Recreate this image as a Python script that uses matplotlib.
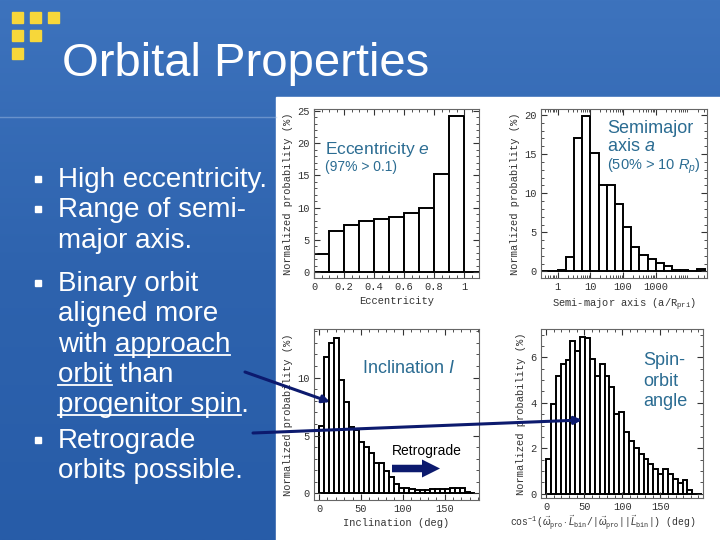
import matplotlib.pyplot as plt
import numpy as np
from matplotlib.colors import LinearSegmentedColormap
from matplotlib.patches import FancyArrow, Rectangle
from matplotlib.ticker import FixedLocator, FuncFormatter, LogLocator, MultipleLocator, NullFormatter

plt.rcParams["font.family"] = ["Liberation Mono", "DejaVu Sans Mono"]
plt.rcParams["mathtext.fontset"] = "custom"
plt.rcParams["mathtext.rm"] = "Liberation Mono"
plt.rcParams["mathtext.it"] = "Liberation Sans:italic"

# eccentricity histogram (bin edges, % per bin)
ecc_edges = [0.0, 0.1, 0.2, 0.3, 0.4, 0.5, 0.6, 0.7, 0.8, 0.9, 1.0, 1.1]
ecc_prob = [2.8, 6.4, 7.3, 8.0, 8.3, 8.6, 9.2, 10.0, 15.2, 24.2, 0.0]

# semimajor axis histogram, edges in log10(a / R_pri)
sma_log_edges = np.arange(-0.5, 4.51, 0.25)
sma_prob = [0.0, 0.0, 0.15, 1.8, 17.0, 19.9, 15.1, 11.1, 11.1, 8.6,
            5.7, 3.1, 2.1, 1.6, 1.1, 0.7, 0.2, 0.2, 0.1, 0.25]

# inclination histogram (deg)
inc_edges = np.arange(0, 187, 6)
inc_prob = [5.8, 11.8, 13.0, 13.45, 9.8, 7.9, 5.7, 5.5, 4.45, 4.0,
            3.5, 2.6, 2.6, 1.9, 1.45, 0.8, 0.5, 0.45, 0.35, 0.3,
            0.3, 0.3, 0.35, 0.4, 0.4, 0.4, 0.45, 0.45, 0.45, 0.14, 0.0]

# spin-orbit angle histogram (deg)
spin_edges = np.arange(33) * 6.4
spin_prob = [1.51, 3.97, 5.17, 5.73, 5.88, 6.73, 6.28, 6.88, 6.84, 5.91,
             5.17, 5.69, 5.17, 4.7, 3.5, 3.6, 2.72, 2.32, 2.01, 1.76,
             1.54, 1.31, 1.07, 0.85, 1.1, 0.88, 0.66, 0.47, 0.59, 0.18,
             0.0, 0.0]

bullets = [
    ("High eccentricity.", 187, True),
    ("Range of semi-", 217, True),
    ("major axis.", 248, False),
    ("Binary orbit", 291, True),
    ("aligned more", 321, False),
    ("with approach", 352, False),
    ("orbit than", 382, False),
    ("progenitor spin.", 412, False),
    ("Retrograde", 448, True),
    ("orbits possible.", 478, False),
]
underlined = [("with approach", "approach"), ("orbit than", "orbit"),
              ("progenitor spin.", "progenitor spin")]

navy = "#0c1a6e"
label_c = "#2b6c92"
sans = "Liberation Sans"


def rect(l, t, r, b):
    return [l / 720, 1 - b / 540, (r - l) / 720, (b - t) / 540]


def style(ax):
    ax.tick_params(which="both", direction="in", top=True, right=True,
                   labelsize=7.5, colors="#333333", pad=3)
    ax.tick_params(which="major", length=4)
    ax.tick_params(which="minor", length=2)
    for s in ax.spines.values():
        s.set_color("#666666")
        s.set_linewidth(0.8)
    ax.set_ylabel("Normalized probability (%)", fontsize=7.5, color="#333333", labelpad=3)


fmt = FuncFormatter(lambda v, p: "%g" % v)

fig = plt.figure(figsize=(7.2, 5.4), dpi=100)

# slide background
bg = fig.add_axes([0, 0, 1, 1], zorder=0)
bg.set_xlim(0, 720)
bg.set_ylim(540, 0)
bg.axis("off")
cmap = LinearSegmentedColormap.from_list("slide", ["#3d73bd", "#2e63ae", "#275ca8"])
bg.imshow(np.linspace(0, 1, 256)[:, None], extent=(0, 720, 540, 0), aspect="auto", cmap=cmap)
bg.add_patch(Rectangle((276, 97), 444, 443, color="white"))
bg.plot([0, 276], [117, 117], color="#a8c2e6", lw=1, alpha=0.45)
for x, y in [(12, 12), (30, 12), (48, 12), (12, 30), (30, 30), (12, 48)]:
    bg.add_patch(Rectangle((x, y), 11, 11, color="#f7d73a"))
bg.text(62, 76, "Orbital Properties", family=sans, fontsize=34, color="white", va="baseline")

for line, base, mark in bullets:
    bg.text(58, base, line, family=sans, fontsize=20, color="white", va="baseline")
    if mark:
        bg.plot(37.5, base - 8, marker="s", ms=4, color="white", mec="white")

fig.canvas.draw()
rend = fig.canvas.get_renderer()


def width(s):
    t = bg.text(0, 100, s, family=sans, fontsize=20)
    w = t.get_window_extent(rend).width
    t.remove()
    return w


for line, word in underlined:
    base = [b for l, b, m in bullets if l == line][0]
    prefix = line[: line.index(word)]
    x0 = 58 + width(prefix + word) - width(word)
    bg.plot([x0, x0 + width(word)], [base + 3, base + 3], color="white", lw=1.3)

# histogram panels
ax1 = fig.add_axes(rect(314, 109, 479, 278), zorder=2)
ax1.bar(ecc_edges[:-1], ecc_prob, width=np.diff(ecc_edges), align="edge",
        color="white", edgecolor="black", linewidth=1.4)
ax1.set_xlim(0, 1.1)
ax1.set_ylim(-0.9, 25.3)
ax1.xaxis.set_major_locator(MultipleLocator(0.2))
ax1.xaxis.set_minor_locator(MultipleLocator(0.05))
ax1.yaxis.set_major_locator(MultipleLocator(5))
ax1.yaxis.set_minor_locator(MultipleLocator(1))
ax1.xaxis.set_major_formatter(fmt)
ax1.set_xlabel("Eccentricity", fontsize=7.5, color="#333333", labelpad=3)
style(ax1)

ax2 = fig.add_axes(rect(541, 109, 707, 278), zorder=2)
lo = 10 ** sma_log_edges[:-1]
hi = 10 ** sma_log_edges[1:]
ax2.bar(lo, sma_prob, width=hi - lo, align="edge",
        color="white", edgecolor="black", linewidth=1.4)
ax2.set_xscale("log")
ax2.set_xlim(10 ** -0.51, 10 ** 4.57)
ax2.set_ylim(-0.84, 20.77)
ax2.xaxis.set_major_locator(FixedLocator([1, 10, 100, 1000]))
ax2.xaxis.set_minor_locator(LogLocator(subs=np.arange(2, 10)))
ax2.xaxis.set_minor_formatter(NullFormatter())
ax2.xaxis.set_major_formatter(fmt)
ax2.yaxis.set_major_locator(MultipleLocator(5))
ax2.yaxis.set_minor_locator(MultipleLocator(1))
ax2.set_xlabel(r"Semi-major axis (a/R$_{\rm pri}$)", fontsize=7.5, color="#333333", labelpad=3)
style(ax2)

ax3 = fig.add_axes(rect(314, 329, 479, 500), zorder=2)
ax3.bar(inc_edges[:-1], inc_prob, width=np.diff(inc_edges), align="edge",
        color="white", edgecolor="black", linewidth=1.4)
ax3.set_xlim(-6, 191)
ax3.set_ylim(-0.57, 14.2)
ax3.xaxis.set_major_locator(MultipleLocator(50))
ax3.xaxis.set_minor_locator(MultipleLocator(10))
ax3.yaxis.set_major_locator(MultipleLocator(5))
ax3.yaxis.set_minor_locator(MultipleLocator(1))
ax3.set_xlabel("Inclination (deg)", fontsize=7.5, color="#333333", labelpad=3)
style(ax3)

ax4 = fig.add_axes(rect(541, 329, 703, 498), zorder=2)
ax4.bar(spin_edges[:-1], spin_prob, width=np.diff(spin_edges), align="edge",
        color="white", edgecolor="black", linewidth=1.4)
ax4.set_xlim(-6.6, 206)
ax4.set_ylim(-0.19, 7.25)
ax4.xaxis.set_major_locator(FixedLocator([0, 50, 100, 150]))
ax4.xaxis.set_minor_locator(MultipleLocator(10))
ax4.yaxis.set_major_locator(MultipleLocator(2))
ax4.yaxis.set_minor_locator(MultipleLocator(0.5))
ax4.set_xlabel(r"cos$^{-1}$($\vec{\omega}_{\rm pro}\cdot\vec{L}_{\rm bin}$/|$\vec{\omega}_{\rm pro}$||$\vec{L}_{\rm bin}$|) (deg)",
               fontsize=7, color="#333333", labelpad=2)
ax4.xaxis.set_label_coords(0.38, -0.095)
style(ax4)

# overlay: panel captions and arrows
ov = fig.add_axes([0, 0, 1, 1], zorder=5)
ov.set_xlim(0, 720)
ov.set_ylim(540, 0)
ov.set_facecolor("none")
ov.axis("off")

ov.text(325, 154, r"Eccentricity $e$", family=sans, fontsize=12.5, color=label_c, va="baseline")
ov.text(325, 171, "(97% > 0.1)", family=sans, fontsize=10, color=label_c, va="baseline")
ov.text(607, 133, "Semimajor", family=sans, fontsize=13, color=label_c, va="baseline")
ov.text(607, 151, r"axis $a$", family=sans, fontsize=13, color=label_c, va="baseline")
ov.text(607, 170, r"(50% > 10 $R_p$)", family=sans, fontsize=10.5, color=label_c, va="baseline")
ov.text(362, 373, r"Inclination $I$", family=sans, fontsize=13, color=label_c, va="baseline")
for txt, base in [("Spin-", 365), ("orbit", 386), ("angle", 406)]:
    ov.text(643, base, txt, family=sans, fontsize=13, color=label_c, va="baseline")

ov.text(392, 455, "Retrograde", family=sans, fontsize=10, color="black", va="baseline")
ov.add_patch(FancyArrow(392, 468.5, 48, 0, width=7.5, head_width=18, head_length=18,
                        length_includes_head=True, color=navy, lw=0))

arrow = dict(arrowstyle="-|>", color=navy, lw=2.2, mutation_scale=11, shrinkA=0, shrinkB=0)
ov.annotate("", xy=(330, 402), xytext=(245, 372), arrowprops=arrow)
ov.annotate("", xy=(582, 420), xytext=(253, 433), arrowprops=arrow)

fig.savefig("out.png", dpi=100)
